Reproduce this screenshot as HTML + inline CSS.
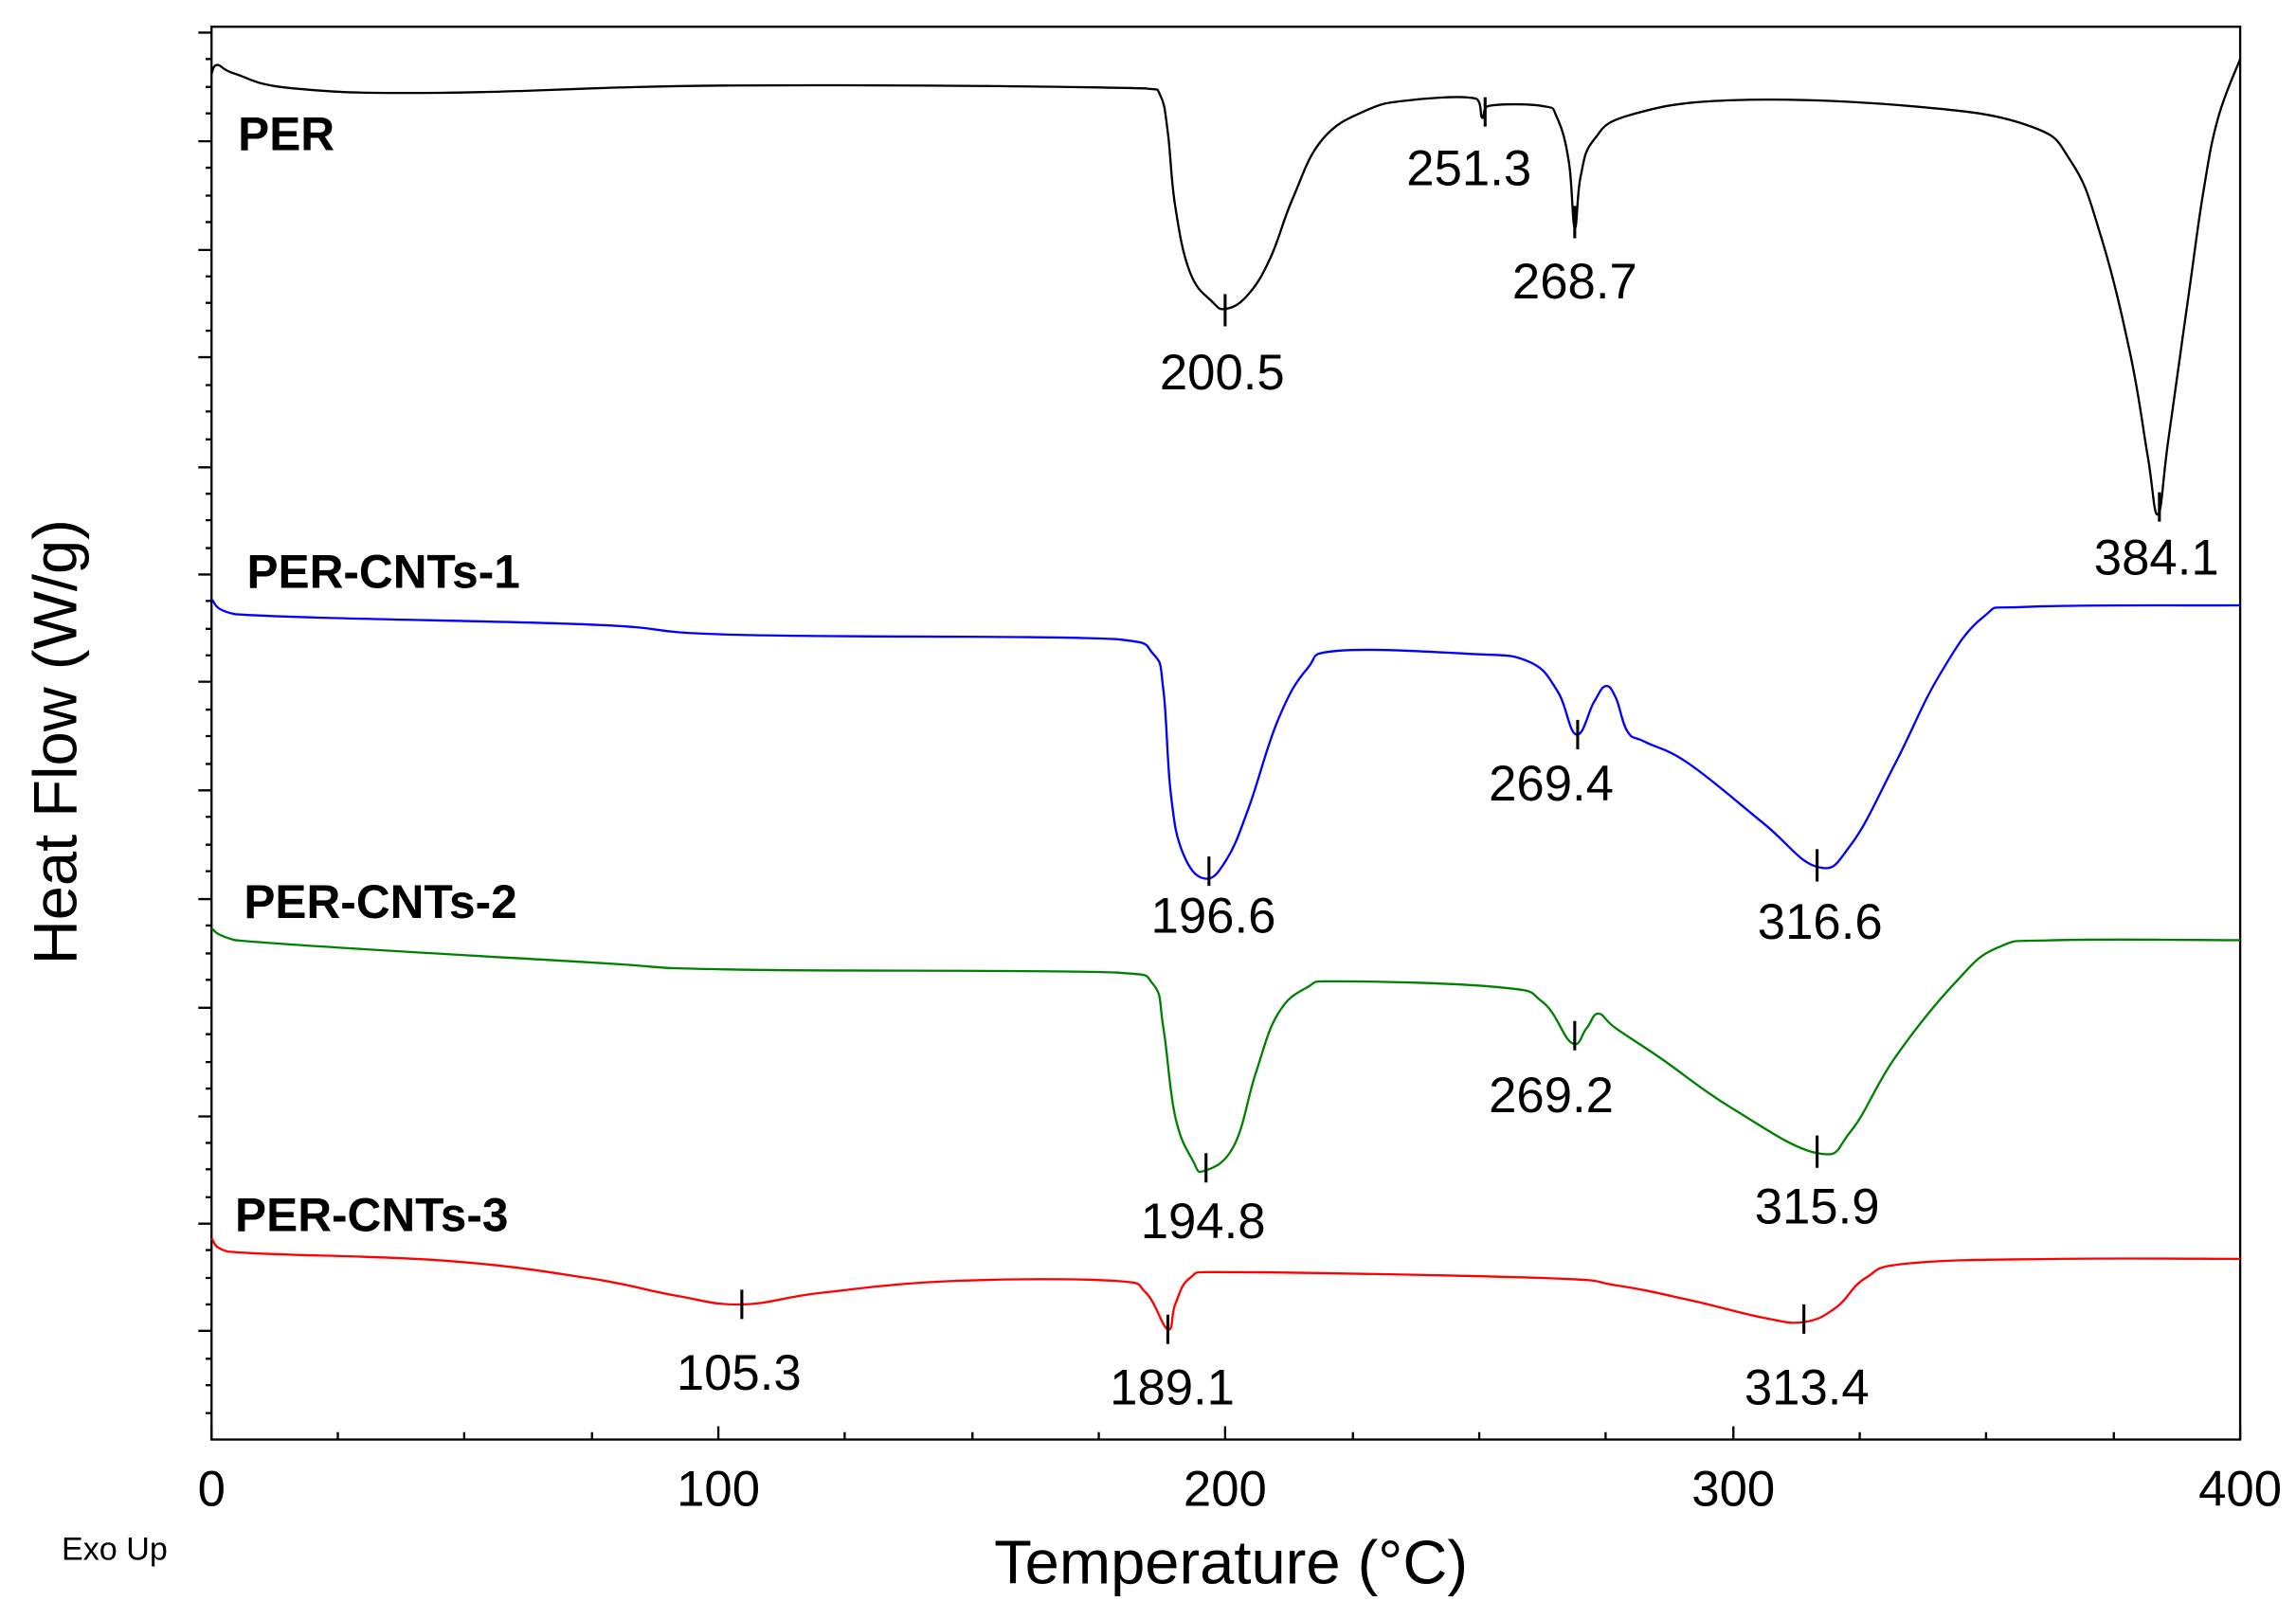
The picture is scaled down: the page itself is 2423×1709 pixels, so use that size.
<!DOCTYPE html>
<html><head><meta charset="utf-8"><style>
html,body{margin:0;padding:0;background:#fff;}
svg{display:block;}
text{font-family:"Liberation Sans",sans-serif;}
</style></head><body>
<svg id="s" width="2423" height="1709" viewBox="0 0 1563 1102" xmlns="http://www.w3.org/2000/svg">
<rect width="1563" height="1102" fill="#fff"/>
<g stroke="#000" stroke-width="1.5" fill="none">
<rect x="144" y="18" width="1381" height="962"/>
<path d="M144 980v-9M489 980v-9M834 980v-9M1180 980v-9M1525 980v-9
M230 980v-5M316 980v-5M403 980v-5M575 980v-5M662 980v-5M748 980v-5M921 980v-5M1007 980v-5M1093 980v-5M1266 980v-5M1352 980v-5M1439 980v-5"/>
<path d="M144 22h-9M144 96h-9M144 170h-9M144 243h-9M144 318h-9M144 391h-9M144 464h-9M144 538h-9M144 612h-9M144 686h-9M144 760h-9M144 833h-9M144 906h-9"/>
<path d="M144 40h-4M144 59h-4M144 77h-4M144 114h-4M144 133h-4M144 151h-4M144 188h-4M144 206h-4M144 225h-4M144 262h-4M144 280h-4M144 299h-4M144 336h-4M144 354h-4M144 373h-4M144 409h-4M144 428h-4M144 446h-4M144 483h-4M144 501h-4M144 520h-4M144 556h-4M144 575h-4M144 593h-4M144 630h-4M144 649h-4M144 667h-4M144 704h-4M144 723h-4M144 741h-4M144 778h-4M144 796h-4M144 815h-4M144 851h-4M144 870h-4M144 888h-4M144 925h-4M144 943h-4M144 962h-4"/>
</g>
<g id="curves" fill="none" stroke-width="1.5" stroke-linejoin="round">
<polyline stroke="#000" points="144,50 148,44 160,50 200,60 300,63 500,58 780,60 790,65 795,90 800,140 810,185 825,205 835,210 850,200 865,175 880,135 900,95 930,75 960,68 1005,67 1009,80 1013,72 1050,72 1060,80 1068,110 1072,155 1076,120 1085,95 1110,78 1180,68 1300,72 1380,85 1410,110 1430,160 1450,240 1462,310 1469,350 1476,300 1490,200 1500,130 1510,80 1525,40"/>
<polyline stroke="#0000ff" points="144,408 160,418 400,425 500,432 760,435 785,445 792,470 797,540 805,580 820,598 835,585 850,550 870,490 890,455 910,443 1000,445 1040,450 1060,470 1073,500 1085,478 1093,467 1100,475 1108,498 1120,505 1150,520 1200,560 1237,590 1260,575 1290,520 1320,460 1350,420 1380,413 1525,412"/>
<polyline stroke="#008000" points="144,632 160,640 400,655 500,660 760,662 785,670 792,700 800,760 812,790 820,797 840,780 855,730 870,690 890,672 910,668 1020,672 1050,682 1070,710 1080,700 1088,690 1100,700 1130,720 1180,755 1237,785 1260,770 1290,720 1330,670 1360,645 1400,640 1525,640"/>
<polyline stroke="#ff0000" points="144,843 155,852 300,858 400,870 460,882 505,888 560,880 650,872 760,872 780,880 795,905 800,888 810,870 830,866 1050,870 1100,875 1150,885 1200,897 1228,900 1250,890 1270,870 1300,860 1400,857 1525,857"/>
</g>
<g stroke="#000" stroke-width="2">
<path d="M834 200v22M1011 66v20M1072 140v22M1470 335v20M1074 490v20M823 583v20M1237 578v22M1072 695v20M821 785v20M1237 773v22M505 878v20M795 895v20M1228 888v20"/>
</g>
<g font-size="34" text-anchor="middle" fill="#000">
<text x="832" y="265">200.5</text>
<text x="1000" y="126">251.3</text>
<text x="1072" y="203">268.7</text>
<text x="1468" y="391">384.1</text>
<text x="1056" y="545">269.4</text>
<text x="826" y="635">196.6</text>
<text x="1239" y="639">316.6</text>
<text x="1056" y="757">269.2</text>
<text x="819" y="843">194.8</text>
<text x="1237" y="833">315.9</text>
<text x="503" y="946">105.3</text>
<text x="798" y="956">189.1</text>
<text x="1230" y="956">313.4</text>
<text x="144" y="1025">0</text>
<text x="489" y="1025">100</text>
<text x="834" y="1025">200</text>
<text x="1180" y="1025">300</text>
<text x="1525" y="1025">400</text>
</g>
<g font-size="32" font-weight="bold" fill="#000">
<text x="162" y="102">PER</text>
<text x="168" y="400">PER-CNTs-1</text>
<text x="166" y="625">PER-CNTs-2</text>
<text x="160" y="838">PER-CNTs-3</text>
</g>
<text x="838" y="1078" font-size="42" text-anchor="middle">Temperature (°C)</text>
<text x="78" y="1062" font-size="22" text-anchor="middle">Exo Up</text>
<text transform="translate(52,505) rotate(-90)" font-size="42" text-anchor="middle">Heat Flow (W/g)</text>
</svg>
<script>
(function(){
var pls=document.querySelectorAll('#curves polyline');
for(var k=0;k<pls.length;k++){
var pl=pls[k];var p=pl.getAttribute('points').trim().split(/\s+/).map(function(s){return s.split(',').map(Number);});
var d='M'+p[0][0]+' '+p[0][1];
for(var i=0;i<p.length-1;i++){
var p0=p[i-1]||p[i],p1=p[i],p2=p[i+1],p3=p[i+2]||p2;
var t=0.2;
var c1=[p1[0]+(p2[0]-p0[0])*t,p1[1]+(p2[1]-p0[1])*t];
var c2=[p2[0]-(p3[0]-p1[0])*t,p2[1]-(p3[1]-p1[1])*t];
c1[0]=Math.min(Math.max(c1[0],p1[0]),p2[0]);c2[0]=Math.min(Math.max(c2[0],p1[0]),p2[0]);
d+=' C'+c1[0].toFixed(2)+' '+c1[1].toFixed(2)+' '+c2[0].toFixed(2)+' '+c2[1].toFixed(2)+' '+p2[0]+' '+p2[1];
}
var path=document.createElementNS('http://www.w3.org/2000/svg','path');
path.setAttribute('d',d);path.setAttribute('stroke',pl.getAttribute('stroke'));
pl.parentNode.replaceChild(path,pl);
}
})();
</script>
</body></html>
